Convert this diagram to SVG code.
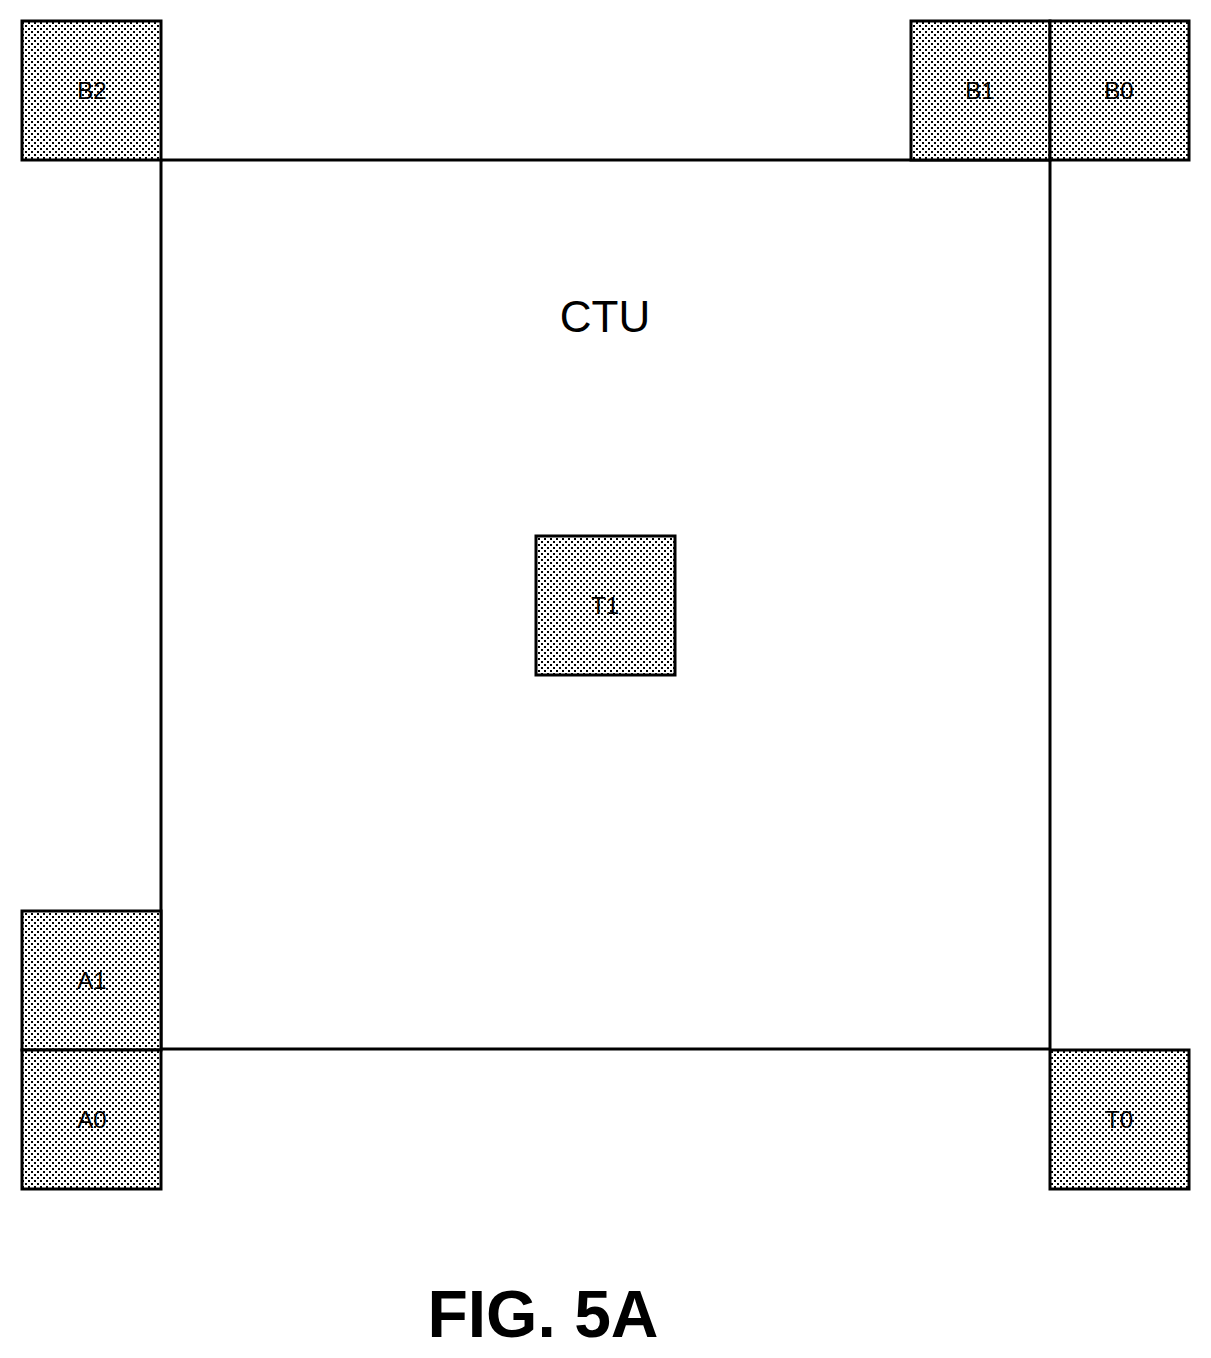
<svg xmlns="http://www.w3.org/2000/svg" width="1211" height="1358" viewBox="0 0 1211 1358">
<defs>
<pattern id="dots" width="6" height="6" patternUnits="userSpaceOnUse">
<rect width="6" height="6" fill="#fff"/>
<rect x="1" y="1" width="2" height="2" fill="#000"/>
<rect x="4" y="4" width="2" height="2" fill="#000"/>
</pattern>
</defs>
<style>
.blk{fill:url(#dots);stroke:#000;stroke-width:3}
.lbl{font-family:"Liberation Sans",Arial,sans-serif;font-size:24px;text-anchor:middle;fill:#000}
.ln{stroke:#000;stroke-width:3;fill:none}
</style>
<g id="ctu"><rect x="161" y="160" width="889" height="889" class="ln"/><text x="605" y="332" class="lbl" style="font-size:44px">CTU</text></g>
<g id="B2"><rect x="22" y="21" width="139" height="139" class="blk"/><text x="92" y="99" class="lbl">B2</text></g>
<g id="B1"><rect x="911" y="21" width="139" height="139" class="blk"/><text x="980" y="99" class="lbl">B1</text></g>
<g id="B0"><rect x="1050" y="21" width="139" height="139" class="blk"/><text x="1119" y="99" class="lbl">B0</text></g>
<g id="T1"><rect x="536" y="536" width="139" height="139" class="blk"/><text x="605" y="614" class="lbl">T1</text></g>
<g id="A1"><rect x="22" y="911" width="139" height="139" class="blk"/><text x="92" y="989" class="lbl">A1</text></g>
<g id="A0"><rect x="22" y="1050" width="139" height="139" class="blk"/><text x="92" y="1128" class="lbl">A0</text></g>
<g id="T0"><rect x="1050" y="1050" width="139" height="139" class="blk"/><text x="1119" y="1128" class="lbl">T0</text></g>
<g id="connectors"></g>
<text x="543" y="1337" class="lbl" style="font-size:66px;font-weight:bold">FIG. 5A</text>
</svg>
